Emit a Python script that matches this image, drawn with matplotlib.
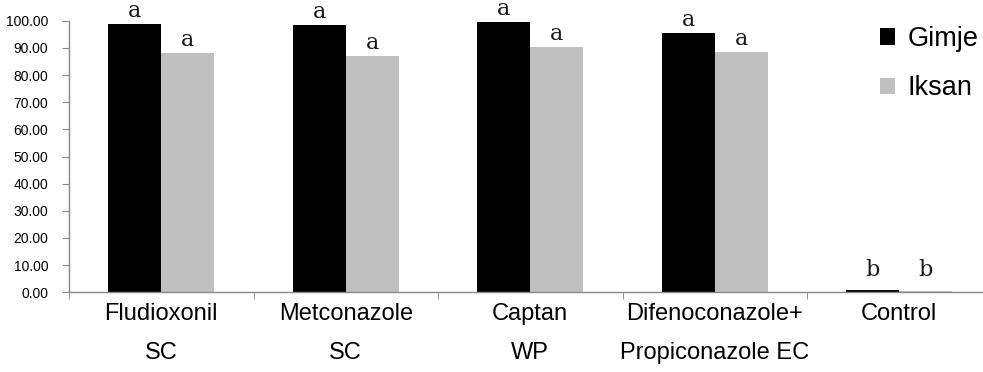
import matplotlib
matplotlib.use("Agg")
import matplotlib.pyplot as plt
import numpy as np

categories = ["Fludioxonil\nSC", "Metconazole\nSC", "Captan\nWP",
              "Difenoconazole+\nPropiconazole EC", "Control"]
gimje = [98.8, 98.5, 99.4, 95.4, 0.7]
iksan = [88.2, 87.1, 90.2, 88.4, 0.5]
gimje_letters = ["a", "a", "a", "a", "b"]
iksan_letters = ["a", "a", "a", "a", "b"]
yticks = [0, 10, 20, 30, 40, 50, 60, 70, 80, 90, 100]

plt.rcParams['font.family'] = ['Liberation Sans', 'DejaVu Sans']

fig = plt.figure(figsize=(9.83, 3.72), dpi=100)
ax = fig.add_axes([69/983, 1 - 292.3/372, 922.5/983, (292.3 - 20.7)/372])

x = np.arange(len(categories)) + 0.5
w = 0.287
ax.bar(x - w/2, gimje, w, color="black", label="Gimje")
ax.bar(x + w/2, iksan, w, color="#c0c0c0", label="Iksan")

for xi, v, t in zip(x - w/2, gimje, gimje_letters):
    ax.text(xi, max(v, 3.5) + 2.6, t, ha="center", va="baseline",
            family="DejaVu Serif", fontsize=16, color="#1a1a1a")
for xi, v, t in zip(x + w/2, iksan, iksan_letters):
    ax.text(xi, max(v, 3.5) + 2.6, t, ha="center", va="baseline",
            family="DejaVu Serif", fontsize=16, color="#1a1a1a")

ax.set_xlim(0, len(categories))
ax.set_ylim(0, 100)
ax.set_yticks(yticks)
ax.set_yticklabels([f"{t:.2f}" for t in yticks], fontsize=10)
ax.set_xticks(x)
ax.set_xticklabels(categories, fontsize=17, linespacing=1.95)
ax.set_xticks(np.arange(len(categories) + 1), minor=True)
ax.tick_params(axis="x", which="major", length=0, pad=8)
ax.tick_params(axis="x", which="minor", length=5, color="#888888", direction="out")
ax.tick_params(axis="y", length=5, color="#888888", direction="out", pad=10)

for s in ["top", "right"]:
    ax.spines[s].set_visible(False)
for s in ["left", "bottom"]:
    ax.spines[s].set_color("#888888")
    ax.spines[s].set_linewidth(1.0)

leg = fig.legend(loc="upper right", bbox_to_anchor=(1.02, 0.995), frameon=False,
                 fontsize=19.5, handlelength=0.55, handleheight=0.55,
                 handletextpad=0.45, labelspacing=0.85)

fig.savefig("out.png", dpi=100)
